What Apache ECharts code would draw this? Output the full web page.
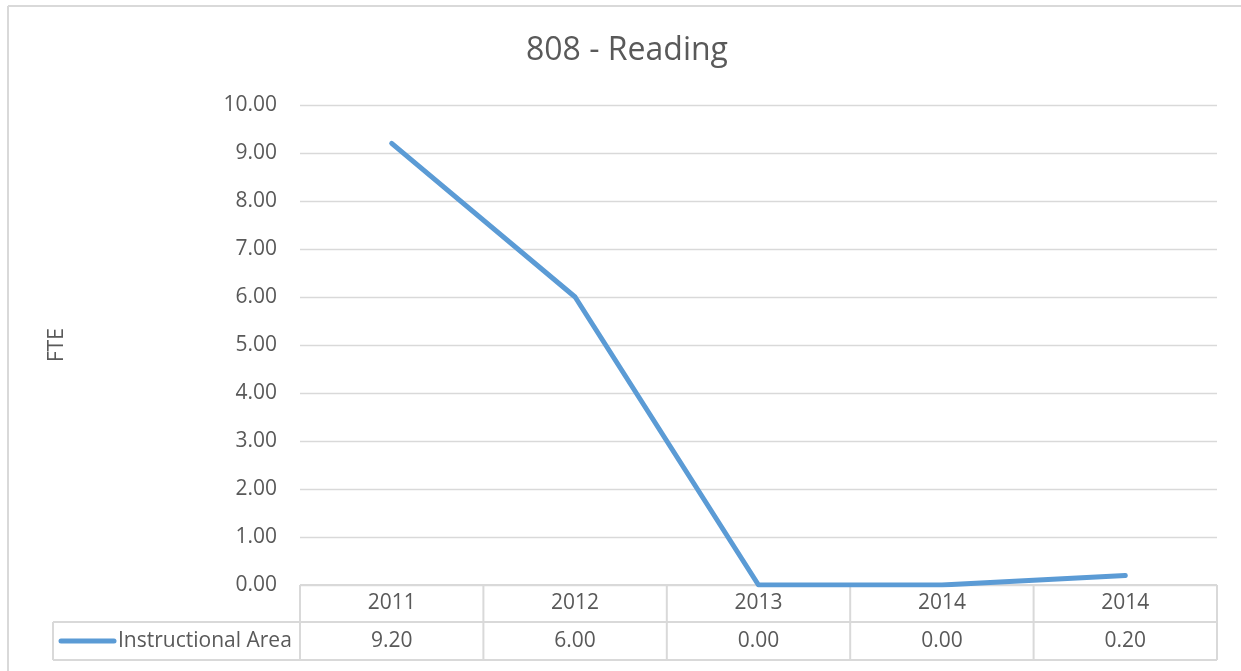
<!DOCTYPE html>
<html>
<head>
<meta charset="utf-8">
<title>808 - Reading</title>
<script src="https://cdn.jsdelivr.net/npm/echarts@6.0.0/dist/echarts.min.js"></script>
<style>
  html, body { margin: 0; padding: 0; background: #fff; }
  #chart { width: 1241px; height: 671px; }
</style>
</head>
<body>
<div id="chart"></div>
<script>
// chart data
const chartTitle = '808 - Reading';
const yAxisTitle = 'FTE';
const categories = ['2011', '2012', '2013', '2014', '2014'];
const seriesName = 'Instructional Area';
const fteValues = [9.2, 6.0, 0.0, 0.0, 0.2];
const yMin = 0;
const yMax = 10;
const yStep = 1;

const textColor = '#595959';
const lineColor = '#5b9bd5';
const gridColor = '#d9d9d9';
const fontFamily = '"Open Sans", "Liberation Sans", sans-serif';

const GRID = { left: 300, right: 24, top: 105, bottom: 86 };

const chart = echarts.init(document.getElementById('chart'));

chart.setOption({
  animation: false,
  backgroundColor: '#fff',
  textStyle: { fontFamily: fontFamily, color: textColor },
  title: {
    text: chartTitle,
    left: 622,
    textAlign: 'center',
    top: 30,
    textStyle: { fontFamily: fontFamily, fontSize: 32, fontWeight: 'normal', color: textColor }
  },
  grid: GRID,
  xAxis: {
    type: 'category',
    data: categories,
    boundaryGap: true,
    axisLine: { show: false },
    axisTick: { show: false },
    axisLabel: { show: false },
    splitLine: { show: false }
  },
  yAxis: {
    type: 'value',
    min: yMin,
    max: yMax,
    interval: yStep,
    name: yAxisTitle,
    nameLocation: 'middle',
    nameGap: 232,
    nameTextStyle: { fontFamily: fontFamily, fontSize: 21, color: textColor },
    axisLine: { show: false },
    axisTick: { show: false },
    axisLabel: {
      margin: 23,
      fontFamily: fontFamily,
      fontSize: 21,
      color: textColor,
      formatter: v => v.toFixed(2)
    },
    splitLine: { lineStyle: { color: gridColor, width: 1.3 } }
  },
  series: [{
    name: seriesName,
    type: 'line',
    data: fteValues,
    symbol: 'none',
    smooth: false,
    lineStyle: { color: lineColor, width: 5, cap: 'round', join: 'round' }
  }]
});

// data table under the plot (Excel style)
function buildTable() {
  const plotLeft = GRID.left;
  const plotRight = chart.getWidth() - GRID.right;
  const plotBottom = chart.getHeight() - GRID.bottom;
  const step = (plotRight - plotLeft) / categories.length;
  const rowTop = plotBottom;
  const rowMid = rowTop + 37;
  const rowBottom = rowTop + 75;
  const legendLeft = 53;
  const tableLine = { stroke: gridColor, lineWidth: 2 };
  const cellFont = { fontFamily: fontFamily, fontSize: 21, fill: textColor };
  const g = [];

  // outer chart frame (top and left edges are visible)
  g.push({ type: 'line', shape: { x1: 8, y1: 6, x2: chart.getWidth(), y2: 6 }, style: tableLine, silent: true });
  g.push({ type: 'line', shape: { x1: 8, y1: 6, x2: 8, y2: chart.getHeight() }, style: tableLine, silent: true });

  // horizontal rules
  g.push({ type: 'line', shape: { x1: plotLeft, y1: rowTop, x2: plotRight, y2: rowTop }, style: tableLine, silent: true });
  g.push({ type: 'line', shape: { x1: legendLeft, y1: rowMid, x2: plotRight, y2: rowMid }, style: tableLine, silent: true });
  g.push({ type: 'line', shape: { x1: legendLeft, y1: rowBottom, x2: plotRight, y2: rowBottom }, style: tableLine, silent: true });
  // vertical rules
  g.push({ type: 'line', shape: { x1: legendLeft, y1: rowMid, x2: legendLeft, y2: rowBottom }, style: tableLine, silent: true });
  for (let i = 0; i <= categories.length; i++) {
    const x = plotLeft + i * step;
    g.push({ type: 'line', shape: { x1: x, y1: rowTop, x2: x, y2: rowBottom }, style: tableLine, silent: true });
  }

  // cell texts
  categories.forEach((cat, i) => {
    const cx = chart.convertToPixel({ xAxisIndex: 0 }, i);
    g.push({
      type: 'text', x: cx, y: (rowTop + rowMid) / 2, silent: true,
      style: Object.assign({ text: cat, align: 'center', verticalAlign: 'middle' }, cellFont)
    });
    g.push({
      type: 'text', x: cx, y: (rowMid + rowBottom) / 2, silent: true,
      style: Object.assign({ text: fteValues[i].toFixed(2), align: 'center', verticalAlign: 'middle' }, cellFont)
    });
  });

  // legend key in first column
  const keyY = (rowMid + rowBottom) / 2;
  g.push({
    type: 'line', silent: true,
    shape: { x1: 61, y1: keyY, x2: 114, y2: keyY },
    style: { stroke: lineColor, lineWidth: 5, lineCap: 'round' }
  });
  g.push({
    type: 'text', x: 118, y: keyY, silent: true,
    style: Object.assign({ text: seriesName, align: 'left', verticalAlign: 'middle' }, cellFont)
  });

  chart.setOption({ graphic: g });
}

buildTable();
</script>
</body>
</html>
